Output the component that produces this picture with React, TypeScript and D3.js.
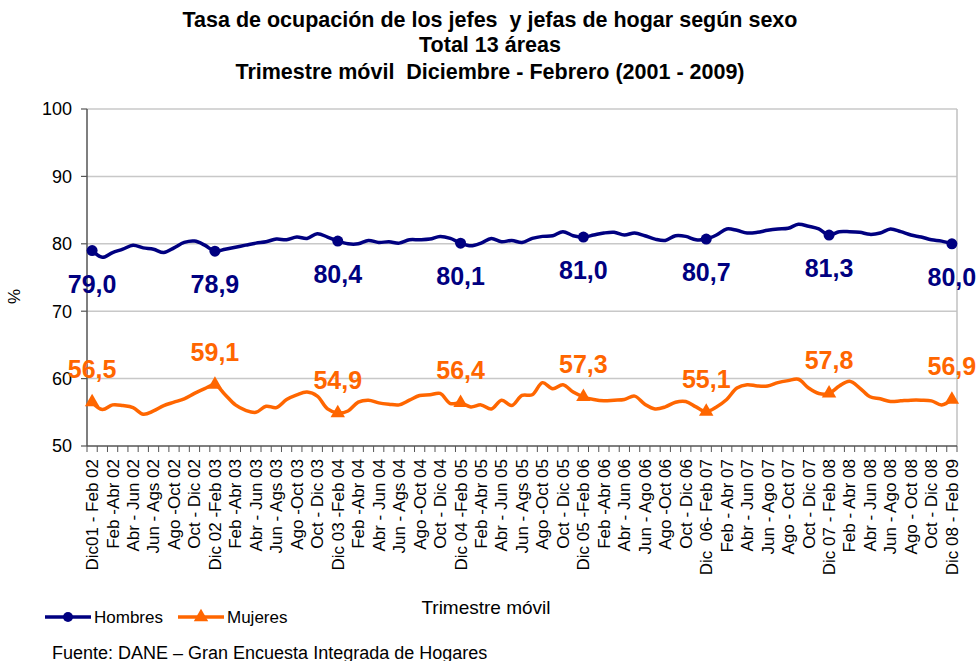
import { useEffect, useRef } from "react";
import * as d3 from "d3";

// Etiquetas del eje X (una cada dos trimestres móviles)
const tickLabels = [
  "Dic01 - Feb 02", "Feb -Abr 02", "Abr - Jun 02", "Jun - Ags 02", "Ago -Oct 02", "Oct - Dic 02",
  "Dic 02 -Feb 03", "Feb -Abr 03", "Abr - Jun 03", "Jun - Ags 03", "Ago -Oct 03", "Oct - Dic 03",
  "Dic 03 -Feb 04", "Feb -Abr 04", "Abr - Jun 04", "Jun - Ags 04", "Ago -Oct 04", "Oct - Dic 04",
  "Dic 04 -Feb 05", "Feb -Abr 05", "Abr - Jun 05", "Jun - Ags 05", "Ago -Oct 05", "Oct - Dic 05",
  "Dic 05 -Feb 06", "Feb -Abr 06", "Abr - Jun 06", "Jun - Ago 06", "Ago -Oct 06", "Oct - Dic 06",
  "Dic  06- Feb 07", "Feb - Abr 07", "Abr - Jun 07", "Jun - Ago 07", "Ago - Oct 07", "Oct - Dic 07",
  "Dic 07 - Feb 08", "Feb - Abr 08", "Abr - Jun 08", "Jun - Ago 08", "Ago - Oct 08", "Oct - Dic 08",
  "Dic 08 - Feb 09",
];

// Tasa de ocupación mensual (trimestre móvil), hombres
const hombres = [
  79.0, 78.0, 78.7, 79.2, 79.8, 79.4, 79.2, 78.7, 79.4, 80.2, 80.4, 79.8,
  78.9, 79.2, 79.5, 79.8, 80.1, 80.3, 80.7, 80.6, 81.0, 80.8, 81.5, 81.0,
  80.4, 80.0, 80.0, 80.5, 80.2, 80.3, 80.1, 80.6, 80.6, 80.7, 81.1, 80.8,
  80.1, 79.7, 80.1, 80.8, 80.3, 80.5, 80.2, 80.8, 81.1, 81.2, 81.8, 81.2,
  81.0, 81.3, 81.6, 81.7, 81.3, 81.6, 81.2, 80.7, 80.5, 81.2, 81.1, 80.6,
  80.7, 81.3, 82.2, 82.0, 81.6, 81.7, 82.0, 82.2, 82.3, 82.9, 82.6, 82.2,
  81.3, 81.8, 81.8, 81.7, 81.4, 81.6, 82.2, 81.8, 81.3, 81.0, 80.6, 80.4,
  80.0,
];

// Tasa de ocupación mensual (trimestre móvil), mujeres
const mujeres = [
  56.5, 55.4, 56.1, 56.0, 55.7, 54.7, 55.2, 56.0, 56.5, 57.0, 57.8, 58.5,
  59.1, 57.6, 56.1, 55.3, 55.0, 55.9, 55.7, 56.9, 57.6, 58.0, 57.4, 55.5,
  54.9, 55.2, 56.5, 56.8, 56.4, 56.2, 56.1, 56.8, 57.5, 57.6, 57.8, 56.3,
  56.4, 55.8, 56.1, 55.5, 56.8, 56.0, 57.5, 57.6, 59.4, 58.5, 59.1, 58.0,
  57.3, 56.9, 56.7, 56.8, 56.9, 57.4, 56.2, 55.5, 55.8, 56.5, 56.6, 55.8,
  55.1, 55.8, 56.9, 58.6, 59.1, 58.9, 58.9, 59.4, 59.7, 59.9, 58.6, 57.8,
  57.8, 58.9, 59.6, 58.6, 57.3, 57.0, 56.6, 56.7, 56.8, 56.8, 56.7, 56.1,
  56.9,
];

const yTicks = [50, 60, 70, 80, 90, 100];

const titleLines = [
  "Tasa de ocupación de los jefes  y jefas de hogar según sexo",
  "Total 13 áreas",
  "Trimestre móvil  Diciembre - Febrero (2001 - 2009)",
];

const NAVY = "#000080";
const ORANGE = "#FF6600";
const FONT = "Arial, 'Liberation Sans', sans-serif";

const App = () => {
  const svgRef = useRef<SVGSVGElement>(null);

  useEffect(() => {
    const svg = d3.select(svgRef.current);
    svg.selectAll("*").remove();

    const W = 977;
    const H = 661;
    const plot = { left: 87, right: 957, top: 109, bottom: 446 };

    svg.attr("width", W).attr("height", H).style("font-family", FONT);

    const idx = d3.range(hombres.length);
    const x = d3.scaleBand<number>().domain(idx).range([plot.left, plot.right]).padding(0);
    const cx = (i: number) => (x(i) || 0) + x.bandwidth() / 2;
    const y = d3.scaleLinear().domain([50, 100]).range([plot.bottom, plot.top]);

    // Titulo
    svg.append("g")
      .selectAll("text")
      .data(titleLines)
      .enter()
      .append("text")
      .attr("x", 490)
      .attr("y", (_d, i) => [27, 52, 79][i])
      .attr("text-anchor", "middle")
      .style("font-weight", "bold")
      .style("font-size", "21.5px")
      .style("white-space", "pre")
      .text((d) => d);

    // Gridlines
    svg.append("g")
      .selectAll("line")
      .data(yTicks.filter((t) => t > 50))
      .enter()
      .append("line")
      .attr("x1", plot.left)
      .attr("x2", plot.right)
      .attr("y1", (d) => y(d))
      .attr("y2", (d) => y(d))
      .attr("stroke", "#c8c8c8")
      .attr("stroke-width", 1.5);

    // Borde derecho
    svg.append("line")
      .attr("x1", plot.right).attr("x2", plot.right)
      .attr("y1", plot.top).attr("y2", plot.bottom)
      .attr("stroke", "#c0c0c0")
      .attr("stroke-width", 1.5);

    // Eje Y
    const yAxis = svg.append("g");
    yAxis.append("line")
      .attr("x1", plot.left).attr("x2", plot.left)
      .attr("y1", plot.top).attr("y2", plot.bottom)
      .attr("stroke", "#555").attr("stroke-width", 1.5);
    yAxis.selectAll(".yt")
      .data(yTicks)
      .enter()
      .append("line")
      .attr("x1", plot.left - 6).attr("x2", plot.left)
      .attr("y1", (d) => y(d)).attr("y2", (d) => y(d))
      .attr("stroke", "#555").attr("stroke-width", 1.2);
    yAxis.selectAll("text")
      .data(yTicks)
      .enter()
      .append("text")
      .attr("x", plot.left - 15)
      .attr("y", (d) => y(d))
      .attr("dy", "0.35em")
      .attr("text-anchor", "end")
      .style("font-size", "18px")
      .text((d) => d);

    svg.append("text")
      .attr("transform", `translate(20,${(plot.top + plot.bottom) / 2 + 19}) rotate(-90)`)
      .attr("text-anchor", "middle")
      .style("font-size", "17px")
      .text("%");

    // Eje X
    const xAxis = svg.append("g");
    xAxis.append("line")
      .attr("x1", plot.left).attr("x2", plot.right)
      .attr("y1", plot.bottom).attr("y2", plot.bottom)
      .attr("stroke", "#555").attr("stroke-width", 1.5);
    xAxis.selectAll(".xt")
      .data(d3.range(hombres.length + 1))
      .enter()
      .append("line")
      .attr("x1", (d) => plot.left + d * x.step())
      .attr("x2", (d) => plot.left + d * x.step())
      .attr("y1", plot.bottom)
      .attr("y2", plot.bottom + 6)
      .attr("stroke", "#555").attr("stroke-width", 1);
    xAxis.selectAll("text")
      .data(tickLabels)
      .enter()
      .append("text")
      .attr("transform", (_d, i) => `translate(${cx(i * 2)},${plot.bottom + 13}) rotate(-90)`)
      .attr("dy", "0.35em")
      .attr("text-anchor", "end")
      .style("font-size", "17px")
      .style("white-space", "pre")
      .text((d) => d);

    svg.append("text")
      .attr("x", 486)
      .attr("y", 614)
      .attr("text-anchor", "middle")
      .style("font-size", "19px")
      .text("Trimestre móvil");

    // Lineas
    const line = d3.line<number>()
      .x((_d, i) => cx(i))
      .y((d) => y(d))
      .curve(d3.curveCatmullRom);

    const series = [
      { key: "Hombres", values: hombres, color: NAVY },
      { key: "Mujeres", values: mujeres, color: ORANGE },
    ];

    series.forEach((s) => {
      svg.append("path")
        .datum(s.values)
        .attr("fill", "none")
        .attr("stroke", s.color)
        .attr("stroke-width", 3.5)
        .attr("stroke-linejoin", "round")
        .attr("d", line);
    });

    const marked = idx.filter((i) => i % 12 === 0);
    const tri = d3.symbol().type(d3.symbolTriangle).size(90);

    svg.append("g")
      .selectAll("circle")
      .data(marked)
      .enter()
      .append("circle")
      .attr("cx", (i) => cx(i))
      .attr("cy", (i) => y(hombres[i]))
      .attr("r", 5.5)
      .attr("fill", NAVY);

    svg.append("g")
      .selectAll("path")
      .data(marked)
      .enter()
      .append("path")
      .attr("d", tri)
      .attr("transform", (i) => `translate(${cx(i)},${y(mujeres[i])})`)
      .attr("fill", ORANGE);

    const fmt = (v: number) => v.toFixed(1).replace(".", ",");

    svg.append("g")
      .selectAll("text")
      .data(marked)
      .enter()
      .append("text")
      .attr("x", (i) => cx(i))
      .attr("y", (i) => y(hombres[i]) + 42)
      .attr("text-anchor", "middle")
      .style("font-size", "25px")
      .style("font-weight", "bold")
      .attr("fill", NAVY)
      .text((i) => fmt(hombres[i]));

    svg.append("g")
      .selectAll("text")
      .data(marked)
      .enter()
      .append("text")
      .attr("x", (i) => cx(i))
      .attr("y", (i) => y(mujeres[i]) - 24)
      .attr("text-anchor", "middle")
      .style("font-size", "25px")
      .style("font-weight", "bold")
      .attr("fill", ORANGE)
      .text((i) => fmt(mujeres[i]));

    // Leyenda
    const legend = svg.append("g").attr("transform", "translate(0,617)");
    legend.append("line")
      .attr("x1", 45).attr("x2", 91).attr("y1", 0).attr("y2", 0)
      .attr("stroke", NAVY).attr("stroke-width", 3.5);
    legend.append("circle").attr("cx", 68).attr("cy", 0).attr("r", 5).attr("fill", NAVY);
    legend.append("text").attr("x", 94).attr("y", 0).attr("dy", "0.35em")
      .style("font-size", "17px").text("Hombres");
    legend.append("line")
      .attr("x1", 178).attr("x2", 224).attr("y1", 0).attr("y2", 0)
      .attr("stroke", ORANGE).attr("stroke-width", 3.5);
    legend.append("path").attr("d", tri).attr("transform", "translate(201,0)").attr("fill", ORANGE);
    legend.append("text").attr("x", 227).attr("y", 0).attr("dy", "0.35em")
      .style("font-size", "17px").text("Mujeres");

    // Fuente
    svg.append("text")
      .attr("x", 52)
      .attr("y", 659)
      .style("font-size", "18px")
      .text("Fuente: DANE – Gran Encuesta Integrada de Hogares");
  }, []);

  return (
    <svg ref={svgRef} style={{ position: "absolute", left: 0, top: 0, background: "#fff" }}></svg>
  );
};

export default App;
